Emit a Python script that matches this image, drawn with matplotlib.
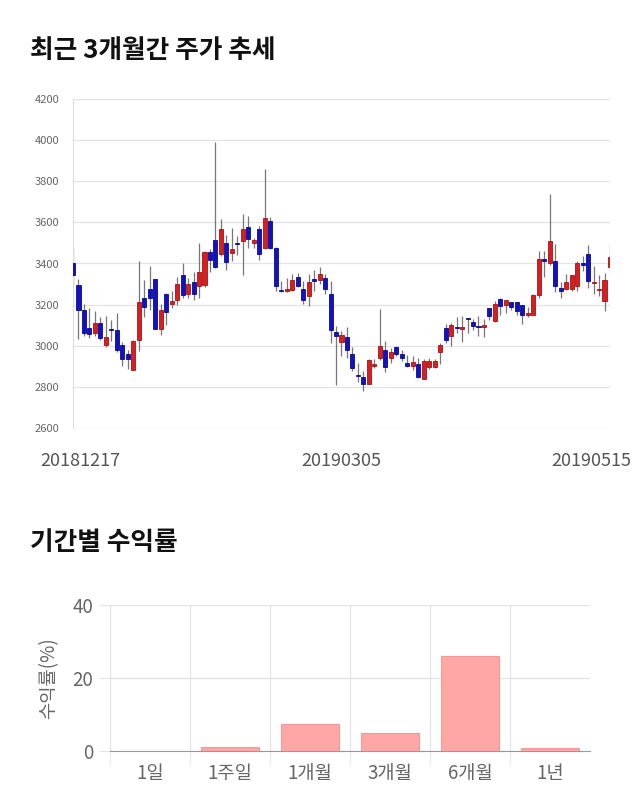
import numpy as np
import matplotlib.pyplot as plt
import matplotlib.transforms as mtransforms

plt.rcParams['font.family'] = ['Noto Sans CJK KR', 'DejaVu Sans']

# daily candles, 2018-12-17 .. 2019-05-15
opens = [3400, 3294, 3172, 3088, 3062, 3113, 3003, 3082, 3078, 3003,
         2962, 2882, 3028, 3232, 3274, 3323, 3083, 3252, 3201, 3222,
         3342, 3254, 3310, 3290, 3294, 3456, 3513, 3448, 3502, 3453,
         3499, 3510, 3577, 3502, 3567, 3477, 3608, 3477, 3271, 3268,
         3271, 3334, 3278, 3241, 3320, 3318, 3331, 3252, 3065, 3018,
         3042, 2961, 2857, 2850, 2815, 2900, 2940, 2977, 2940, 2992,
         2961, 2916, 2900, 2909, 2840, 2896, 2896, 2970, 3087, 3047,
         3088, 3081, 3133, 3115, 3092, 3089, 3184, 3119, 3228, 3200,
         3212, 3211, 3196, 3149, 3150, 3246, 3420, 3401, 3412, 3282,
         3274, 3274, 3290, 3401, 3448, 3303, 3270, 3220, 3383]
highs = [3475, 3323, 3205, 3185, 3168, 3140, 3145, 3125, 3158, 3020,
         2978, 3030, 3412, 3320, 3388, 3325, 3205, 3255, 3265, 3335,
         3400, 3330, 3358, 3502, 3460, 3470, 3990, 3616, 3538, 3572,
         3535, 3641, 3633, 3526, 3583, 3860, 3625, 3480, 3314, 3330,
         3347, 3355, 3314, 3347, 3366, 3384, 3347, 3314, 3094, 3073,
         3091, 2993, 2915, 2875, 2935, 2935, 3179, 3021, 2990, 3000,
         2980, 2955, 2948, 2940, 2935, 2940, 2935, 3014, 3104, 3110,
         3141, 3143, 3135, 3130, 3143, 3132, 3186, 3216, 3232, 3224,
         3215, 3215, 3200, 3190, 3250, 3460, 3460, 3738, 3497, 3311,
         3350, 3345, 3412, 3437, 3488, 3388, 3344, 3355, 3497]
lows = [3290, 3032, 3048, 3040, 3045, 3030, 2995, 3022, 2970, 2900,
        2885, 2880, 2975, 3140, 3175, 3080, 3052, 3100, 3185, 3200,
        3232, 3232, 3224, 3232, 3288, 3358, 3380, 3436, 3370, 3410,
        3440, 3343, 3473, 3477, 3417, 3469, 3470, 3268, 3260, 3262,
        3265, 3285, 3205, 3192, 3268, 3298, 3252, 3013, 2810, 2950,
        2940, 2875, 2826, 2780, 2812, 2891, 2932, 2870, 2915, 2950,
        2924, 2895, 2880, 2845, 2838, 2885, 2890, 2910, 3014, 3000,
        3063, 3020, 3062, 3078, 3045, 3042, 3127, 3115, 3151, 3159,
        3175, 3150, 3104, 3140, 3148, 3232, 3335, 3395, 3263, 3233,
        3270, 3265, 3266, 3363, 3280, 3253, 3242, 3168, 3355]
closes = [3345, 3173, 3060, 3055, 3113, 3038, 3043, 3077, 2978, 2934,
          2934, 3025, 3212, 3187, 3233, 3083, 3172, 3166, 3216, 3298,
          3246, 3301, 3250, 3360, 3456, 3417, 3384, 3567, 3407, 3469,
          3496, 3567, 3518, 3513, 3446, 3622, 3477, 3290, 3267, 3273,
          3318, 3290, 3221, 3311, 3317, 3347, 3274, 3075, 3046, 3052,
          2980, 2894, 2853, 2815, 2932, 2911, 3000, 2899, 2972, 2961,
          2940, 2900, 2920, 2848, 2925, 2925, 2928, 3003, 3030, 3099,
          3086, 3089, 3131, 3094, 3090, 3102, 3143, 3205, 3195, 3221,
          3190, 3169, 3150, 3161, 3246, 3420, 3413, 3510, 3290, 3265,
          3311, 3342, 3401, 3393, 3315, 3305, 3273, 3318, 3433]
date_ticks = [0, 49, 98]
date_labels = ["20181217", "20190305", "20190515"]

periods = ["1일", "1주일", "1개월", "3개월", "6개월", "1년"]
returns = [0.0, 1.2, 7.3, 5.0, 25.9, 0.7]

fig = plt.figure(figsize=(6.4, 8.1), dpi=100)

fig.text(30 / 640, 1 - 50 / 810, "최근 3개월간 주가 추세", fontsize=18.5,
         fontweight="bold", va="center", ha="left", color="#111111")
fig.text(30 / 640, 1 - 543 / 810, "기간별 수익률", fontsize=18.5,
         fontweight="bold", va="center", ha="left", color="#111111")

# candlestick chart
ax = fig.add_axes([73 / 640, 1 - 428 / 810, 537 / 640, 329 / 810])
o = np.array(opens)
c = np.array(closes)
idx = np.arange(len(o))
up = c >= o
colors = np.where(up, "#d81e1e", "#1212c4")
edges = np.where(up, "#a51414", "#0a0a8a")
ax.vlines(idx, lows, highs, color="#777777", lw=0.9, zorder=2)
body_low = np.minimum(o, c)
body_h = np.maximum(np.abs(c - o), 6)
ax.bar(idx, body_h, bottom=body_low, width=0.74, color=colors,
       edgecolor=edges, linewidth=0.6, zorder=3)
ax.set_xlim(0, 98)
ax.set_ylim(2600, 4200)
ax.set_yticks(np.arange(2600, 4201, 200))
ax.grid(axis="y", color="#e3e3e3", lw=0.9)
ax.set_axisbelow(True)
for s in ["top", "right", "bottom"]:
    ax.spines[s].set_visible(False)
ax.spines["left"].set_color("#dddddd")
ax.tick_params(axis="y", length=0, labelsize=8, labelcolor="#666666", pad=10)
ax.set_xticks(date_ticks)
ax.set_xticklabels(date_labels)
ax.tick_params(axis="x", length=0, labelsize=13, labelcolor="#555555", pad=17)
lbls = ax.get_xticklabels()
lbls[0].set_transform(lbls[0].get_transform() +
                      mtransforms.ScaledTranslation(0.07, 0, fig.dpi_scale_trans))
lbls[-1].set_transform(lbls[-1].get_transform() +
                       mtransforms.ScaledTranslation(-0.19, 0, fig.dpi_scale_trans))

# returns bar chart
ax2 = fig.add_axes([110 / 640, 1 - 751 / 810, 480 / 640, 146 / 810])
xpos = np.arange(len(periods))
ax2.bar(xpos, returns, width=0.72, color="#ffa6a6", edgecolor="#f29a9a",
        linewidth=0.8, zorder=3)
ax2.set_xlim(-0.5, len(periods) - 0.5)
ax2.set_ylim(0, 40)
ax2.set_yticks([0, 20, 40])
ax2.set_xticks(xpos)
ax2.set_xticklabels(periods)
ax2.set_xticks(np.arange(-0.5, len(periods) - 1), minor=True)
ax2.grid(axis="y", color="#e3e3e3", lw=0.9)
ax2.grid(axis="x", which="minor", color="#e3e3e3", lw=0.9)
ax2.set_axisbelow(True)
for s in ["top", "right", "left"]:
    ax2.spines[s].set_visible(False)
ax2.spines["bottom"].set_color("#999999")
ax2.tick_params(axis="x", which="major", length=0, labelsize=13.5,
                labelcolor="#666666", pad=9)
ax2.tick_params(axis="x", which="minor", length=10, color="#e3e3e3")
ax2.tick_params(axis="y", length=8, color="#e3e3e3", labelsize=13.5,
                labelcolor="#666666", pad=4)
ax2.set_ylabel("수익률(%)", fontsize=13.5, color="#666666", labelpad=10)

fig.savefig("out.png", dpi=100)
